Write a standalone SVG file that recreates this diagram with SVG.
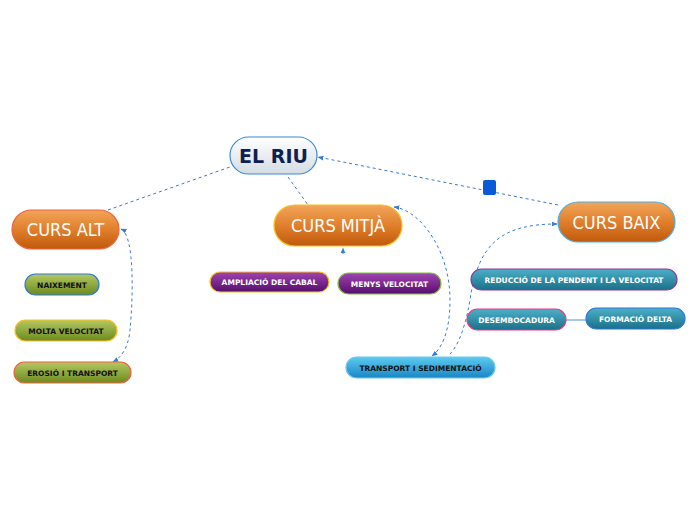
<svg xmlns="http://www.w3.org/2000/svg" width="696" height="520" viewBox="0 0 696 520">
<defs>
<linearGradient id="gOr" x1="0" y1="0" x2="0" y2="1"><stop offset="0" stop-color="#f2a55a"/><stop offset="0.5" stop-color="#e07f2c"/><stop offset="1" stop-color="#c05a0c"/></linearGradient>
<linearGradient id="gWh" x1="0" y1="0" x2="0" y2="1"><stop offset="0" stop-color="#ffffff"/><stop offset="1" stop-color="#d4dce4"/></linearGradient>
<linearGradient id="gGr" x1="0" y1="0" x2="0" y2="1"><stop offset="0" stop-color="#b4c862"/><stop offset="1" stop-color="#6c8a1e"/></linearGradient>
<linearGradient id="gPu" x1="0" y1="0" x2="0" y2="1"><stop offset="0" stop-color="#a044b0"/><stop offset="1" stop-color="#560e6c"/></linearGradient>
<linearGradient id="gBl" x1="0" y1="0" x2="0" y2="1"><stop offset="0" stop-color="#5ccaf0"/><stop offset="1" stop-color="#1a86c4"/></linearGradient>
<linearGradient id="gTe" x1="0" y1="0" x2="0" y2="1"><stop offset="0" stop-color="#4cb0c8"/><stop offset="1" stop-color="#1a7088"/></linearGradient>
<marker id="ah" viewBox="0 0 10 10" refX="9" refY="5" markerWidth="6" markerHeight="6" orient="auto-start-reverse"><path d="M0,1 L10,5 L0,9 z" fill="#3a7ad8"/></marker>
</defs>
<style>
.c{fill:none;stroke:#3a7ad8;stroke-width:1;stroke-dasharray:3,3}
.big{font-family:"DejaVu Sans",sans-serif;font-stretch:condensed;font-size:18px;fill:#fff;text-anchor:middle}
.sm{font-family:"DejaVu Sans",sans-serif;font-weight:bold;font-size:7.5px;text-anchor:middle}
.k{fill:#111}
.w{fill:#fff}
</style>
<g id="connectors">
<path class="c" d="M108,210 L230,167"/>
<path class="c" d="M288,177 L308,205"/>
<path class="c" d="M558,205 L318,157" marker-end="url(#ah)"/>
<rect x="483" y="180" width="13" height="15" rx="2" fill="#0a5ad8"/>
<path class="c" d="M121,229 C135,235 133,300 130,330 C128,350 120,358 113,362" marker-start="url(#ah)" marker-end="url(#ah)"/>
<path class="c" d="M394,207 C420,210 450,250 450,300 C450,335 440,350 432,356" marker-start="url(#ah)" marker-end="url(#ah)"/>
<path class="c" d="M557,224 C500,224 478,245 470,300 C464,335 455,350 448,356" marker-start="url(#ah)"/>
<path class="c" d="M343,254 L343,248" marker-end="url(#ah)"/>
<line x1="566" y1="320" x2="586" y2="320" stroke="#4a90d8" stroke-width="1"/>
</g>
<g id="elriu"><rect x="230" y="137" width="87" height="37" rx="18.5" fill="url(#gWh)" stroke="#3a8ad8" stroke-width="1.2"/><text x="273.5" y="163" font-family="DejaVu Sans,sans-serif" font-weight="bold" font-size="19" fill="#0e2050" text-anchor="middle">EL RIU</text></g>
<g id="cursalt"><rect x="12" y="210" width="107" height="39" rx="19.5" fill="url(#gOr)" stroke="#f0643c" stroke-width="1.2"/><text class="big" x="65.5" y="236">CURS ALT</text></g>
<g id="cursmitja"><rect x="274" y="205" width="128" height="41" rx="20.5" fill="url(#gOr)" stroke="#f8c020" stroke-width="1.2"/><text class="big" x="338" y="232">CURS MITJÀ</text></g>
<g id="cursbaix"><rect x="558" y="202" width="117" height="40" rx="20" fill="url(#gOr)" stroke="#48b0e8" stroke-width="1.2"/><text class="big" x="616.5" y="229">CURS BAIX</text></g>
<g id="naixement"><rect x="25" y="274" width="74" height="21" rx="10.5" fill="url(#gGr)" stroke="#2a78d8" stroke-width="1.2"/><text class="sm k" x="62" y="287.5">NAIXEMENT</text></g>
<g id="moltavel"><rect x="15" y="320" width="102" height="21" rx="10.5" fill="url(#gGr)" stroke="#f8c020" stroke-width="1.2"/><text class="sm k" x="66" y="333.5">MOLTA VELOCITAT</text></g>
<g id="erosio"><rect x="14" y="362" width="117" height="21" rx="10.5" fill="url(#gGr)" stroke="#f06040" stroke-width="1.2"/><text class="sm k" x="72.5" y="375.5">EROSIÓ I TRANSPORT</text></g>
<g id="ampliacio"><rect x="210" y="272" width="119" height="20" rx="10" fill="url(#gPu)" stroke="#f8c020" stroke-width="1.2"/><text class="sm w" x="269.5" y="285">AMPLIACIÓ DEL CABAL</text></g>
<g id="menysvel"><rect x="338" y="273" width="103" height="21" rx="10.5" fill="url(#gPu)" stroke="#80c040" stroke-width="1.2"/><text class="sm w" x="389.5" y="286.5">MENYS VELOCITAT</text></g>
<g id="transport"><rect x="346" y="357" width="149" height="21" rx="10.5" fill="url(#gBl)" stroke="#70c8f0" stroke-width="1.2"/><text class="sm k" x="420.5" y="370.5">TRANSPORT I SEDIMENTACIÓ</text></g>
<g id="reduccio"><rect x="471" y="269" width="206" height="21" rx="10.5" fill="url(#gTe)" stroke="#8a3a9a" stroke-width="1.2"/><text class="sm w" x="574" y="282.5">REDUCCIÓ DE LA PENDENT I LA VELOCITAT</text></g>
<g id="desembocadura"><rect x="467" y="309" width="99" height="21" rx="10.5" fill="url(#gTe)" stroke="#e83888" stroke-width="1.2"/><text class="sm w" x="516.5" y="322.5">DESEMBOCADURA</text></g>
<g id="delta"><rect x="586" y="308" width="99" height="21" rx="10.5" fill="url(#gTe)" stroke="#2a78d8" stroke-width="1.2"/><text class="sm w" x="635.5" y="321.5">FORMACIÓ DELTA</text></g>
</svg>
